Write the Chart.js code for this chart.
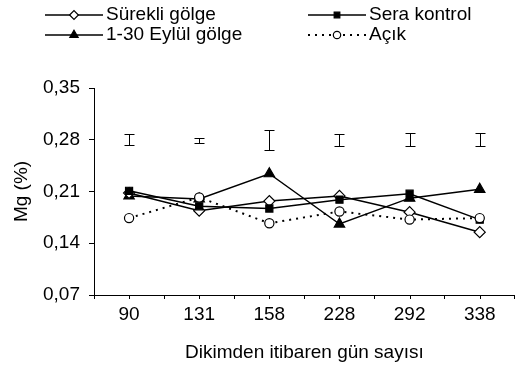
<!DOCTYPE html>
<html>
<head>
<meta charset="utf-8">
<script src="https://cdn.jsdelivr.net/npm/chart.js@4"></script>
<style>
  html, body { margin: 0; padding: 0; background: #fff; }
  #wrap { position: relative; width: 522px; height: 369px; }
</style>
</head>
<body>
<div id="wrap"><canvas id="chart"></canvas></div>
<script>
const categories = ['90', '131', '158', '228', '292', '338']
const surekliGolge = [0.208, 0.184, 0.197, 0.204, 0.182, 0.155]
const seraKontrol = [0.211, 0.190, 0.187, 0.199, 0.207, 0.172]
const eylulGolge = [0.204, 0.200, 0.234, 0.166, 0.201, 0.213]
const acik = [0.174, 0.202, 0.167, 0.183, 0.172, 0.174]
const lsdLow = [0.273, 0.275, 0.266, 0.272, 0.271, 0.271]
const lsdHigh = [0.288, 0.282, 0.293, 0.288, 0.289, 0.289]
const yTicks = [0.07, 0.14, 0.21, 0.28, 0.35]

const FONT = "'Liberation Sans', Arial, sans-serif"
const FONT_SIZE = 19

// LSD bars above the lines
const errorBarPlugin = {
  id: 'errorBarPlugin',
  afterDatasetsDraw: (chart) => {
    const { ctx, scales } = chart
    ctx.save()
    ctx.strokeStyle = '#000'
    ctx.lineWidth = 1
    lsdLow.forEach((low, i) => {
      const x = Math.round(scales.x.getPixelForValue(i)) + 0.5
      const y1 = Math.round(scales.y.getPixelForValue(low)) + 0.5
      const y2 = Math.round(scales.y.getPixelForValue(lsdHigh[i])) + 0.5
      ctx.beginPath()
      ctx.moveTo(x, y1)
      ctx.lineTo(x, y2)
      ctx.moveTo(x - 5, y1)
      ctx.lineTo(x + 5, y1)
      ctx.moveTo(x - 5, y2)
      ctx.lineTo(x + 5, y2)
      ctx.stroke()
    })
    ctx.restore()
  }
}

// extra tick marks under each category label
const centerTickPlugin = {
  id: 'centerTickPlugin',
  afterDraw: (chart) => {
    const { ctx, chartArea, scales } = chart
    ctx.save()
    ctx.strokeStyle = '#000'
    ctx.lineWidth = 1
    categories.forEach((c, i) => {
      const x = Math.round(scales.x.getPixelForValue(i)) + 0.5
      ctx.beginPath()
      ctx.moveTo(x, chartArea.bottom)
      ctx.lineTo(x, chartArea.bottom + 4)
      ctx.stroke()
    })
    ctx.restore()
  }
}

// two-column legend at the top
const legendPlugin = {
  id: 'legendPlugin',
  afterDraw: (chart) => {
    const { ctx } = chart
    const cols = [45, 308]
    const rows = [15, 35]
    ctx.save()
    chart.data.datasets.forEach((ds, i) => {
      const x = cols[i % 2]
      const y = rows[Math.floor(i / 2)]
      ctx.strokeStyle = '#000'
      ctx.lineWidth = ds.borderWidth
      ctx.setLineDash(ds.borderDash || [])
      ctx.beginPath()
      ctx.moveTo(x, y)
      ctx.lineTo(x + 58, y)
      ctx.stroke()
      ctx.setLineDash([])
      ctx.fillStyle = ds.pointBackgroundColor
      ctx.lineWidth = ds.pointBorderWidth
      Chart.helpers.drawPoint(ctx, {
        pointStyle: ds.pointStyle,
        radius: ds.pointRadius * 0.8,
        rotation: 0,
        borderWidth: ds.pointBorderWidth
      }, x + 29, y)
      ctx.fillStyle = '#000'
      ctx.font = FONT_SIZE + 'px ' + FONT
      ctx.textBaseline = 'middle'
      ctx.fillText(ds.label, x + 61, y)
    })
    ctx.restore()
  }
}

const common = {
  borderColor: '#000',
  borderWidth: 1.5,
  pointBorderColor: '#000',
  pointBorderWidth: 1.2,
  pointRadius: 5,
  tension: 0
}

const config = {
  type: 'line',
  data: {
    labels: categories,
    datasets: [
      { ...common, label: 'Sürekli gölge', data: surekliGolge, pointStyle: 'rectRot', pointRadius: 5.5, pointBackgroundColor: '#fff', order: 2 },
      { ...common, label: 'Sera kontrol', data: seraKontrol, pointStyle: 'rect', pointRadius: 5, pointBackgroundColor: '#000', order: 1 },
      { ...common, label: '1-30 Eylül gölge', data: eylulGolge, pointStyle: 'triangle', pointRadius: 6, pointBackgroundColor: '#000', order: 3 },
      { ...common, label: 'Açık', data: acik, pointStyle: 'circle', pointRadius: 4.6, pointBackgroundColor: '#fff', borderWidth: 2, borderDash: [2, 5], order: 0 }
    ]
  },
  options: {
    responsive: true,
    maintainAspectRatio: false,
    animation: false,
    events: [],
    layout: { padding: { top: 88, right: 0, bottom: 0, left: 0 } },
    plugins: { legend: { display: false }, tooltip: { enabled: false } },
    scales: {
      x: {
        type: 'category',
        offset: true,
        grid: { offset: true, drawOnChartArea: false, tickLength: 4, color: '#000' },
        border: { color: '#000', width: 1 },
        ticks: { color: '#000', font: { family: FONT, size: FONT_SIZE }, padding: 4, maxRotation: 0 },
        title: { display: true, text: 'Dikimden itibaren gün sayısı', color: '#000', font: { family: FONT, size: FONT_SIZE }, padding: { top: 0, bottom: 5 } },
        afterFit: (s) => { s.height = 74 }
      },
      y: {
        min: yTicks[0],
        max: yTicks[yTicks.length - 1],
        afterBuildTicks: (s) => { s.ticks = yTicks.map(v => ({ value: v })) },
        grid: { drawOnChartArea: false, tickLength: 5, color: '#000' },
        border: { color: '#000', width: 1 },
        ticks: {
          color: '#000',
          font: { family: FONT, size: FONT_SIZE },
          padding: 9,
          callback: (v) => v.toFixed(2).replace('.', ',')
        },
        title: { display: true, text: 'Mg (%)', color: '#000', font: { family: FONT, size: FONT_SIZE }, padding: { top: 10, bottom: 0 } },
        afterFit: (s) => { s.width = 94 }
      }
    }
  },
  plugins: [errorBarPlugin, centerTickPlugin, legendPlugin]
}

new Chart(document.getElementById('chart').getContext('2d'), config)
</script>
</body>
</html>
